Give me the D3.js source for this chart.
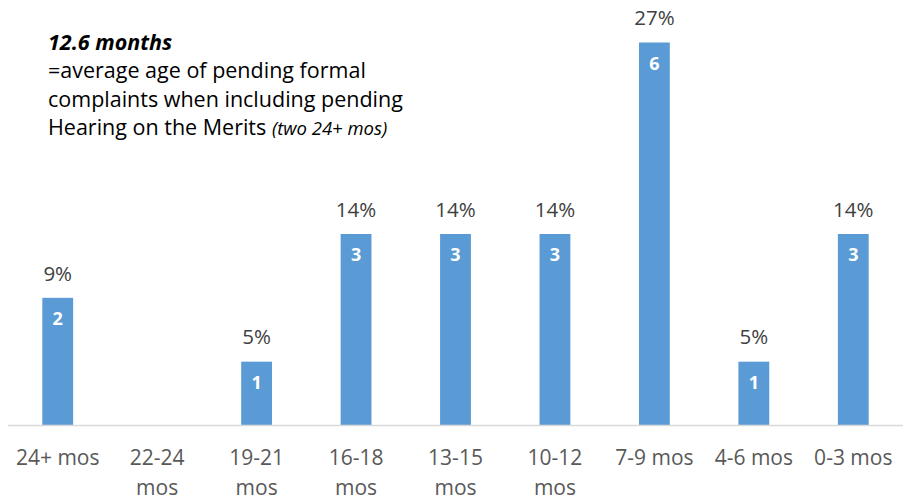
<!DOCTYPE html>
<html>
<head>
<meta charset="utf-8">
<script src="https://cdn.jsdelivr.net/npm/d3@7"></script>
<style>
	body { margin: 0; background: #fff; }
	svg { display: block; font-family: "Open Sans", sans-serif; }
</style>
</head>
<body>
<svg id="chart" width="903" height="499"></svg>
<script>
// Data
var categories = ["24+ mos", "22-24 mos", "19-21 mos", "16-18 mos", "13-15 mos", "10-12 mos", "7-9 mos", "4-6 mos", "0-3 mos"];
var counts = [2, 0, 1, 3, 3, 3, 6, 1, 3];
var percentLabels = ["9%", "", "5%", "14%", "14%", "14%", "27%", "5%", "14%"];
var noteLines = ["=average age of pending formal", "complaints when including pending", "Hearing on the Merits "];

var svg = d3.select("#chart");
var W = 903, H = 499;
var baseY = 425.5, topY = 42.5;

var x = d3.scaleBand()
	.domain(categories)
	.range([8, W])
	.paddingInner(0.69)
	.paddingOuter(0.345);

var y = d3.scaleLinear()
	.domain([0, d3.max(counts)])
	.range([baseY, topY]);

var data = categories.map(function(c, i) {
	return {cat: c, n: counts[i], pct: percentLabels[i]};
});

// Bars
var bars = svg.append("g");
bars.selectAll("rect").data(data.filter(function(d) { return d.n > 0; }))
	.enter().append("rect")
	.attr("x", function(d) { return x(d.cat); })
	.attr("y", function(d) { return y(d.n); })
	.attr("width", x.bandwidth())
	.attr("height", function(d) { return baseY - y(d.n); })
	.attr("fill", "#5B9BD5");

// Axis
var axis = svg.append("g")
	.attr("transform", "translate(0," + baseY + ")")
	.call(d3.axisBottom(x).tickSize(0).tickPadding(0));
axis.select(".domain").attr("stroke", "#D9D9D9").attr("stroke-width", 1.5)
	.attr("d", "M8,0H" + W);
axis.selectAll(".tick text")
	.attr("fill", "#595959")
	.style("font-size", "21px")
	.style("font-family", "'Open Sans', sans-serif")
	.attr("dy", 0)
	.each(function(d) {
		// wrap label into the band step
		var t = d3.select(this);
		var words = d.split(" ");
		t.text(null);
		var line = [], lineNo = 0;
		var tspan = t.append("tspan").attr("x", 0).attr("y", 39);
		for (var i = 0; i < words.length; i++) {
			line.push(words[i]);
			tspan.text(line.join(" "));
			if (tspan.node().getComputedTextLength() > x.step() - 4 && line.length > 1) {
				line.pop();
				tspan.text(line.join(" "));
				line = [words[i]];
				lineNo++;
				tspan = t.append("tspan").attr("x", 0).attr("y", 39 + lineNo * 30).text(words[i]);
			}
		}
	});

// Percentage labels
svg.append("g").selectAll("text").data(data.filter(function(d) { return d.pct; }))
	.enter().append("text")
	.attr("x", function(d) { return x(d.cat) + x.bandwidth() / 2; })
	.attr("y", function(d) { return y(d.n) - 24.5; })
	.attr("dy", "0.35em")
	.attr("text-anchor", "middle")
	.attr("fill", "#404040")
	.style("font-size", "20.5px")
	.text(function(d) { return d.pct; });

// Count labels inside bars
svg.append("g").selectAll("text").data(data.filter(function(d) { return d.n > 0; }))
	.enter().append("text")
	.attr("x", function(d) { return x(d.cat) + x.bandwidth() / 2; })
	.attr("y", function(d) { return y(d.n) + 21; })
	.attr("dy", "0.35em")
	.attr("text-anchor", "middle")
	.attr("fill", "#fff")
	.style("font-size", "18px")
	.style("font-weight", "bold")
	.text(function(d) { return d.n; });

// Annotation
var note = svg.append("g").attr("transform", "translate(48,0)");
note.append("text")
	.attr("y", 42).attr("dy", "0.35em")
	.style("font-size", "21.5px").style("font-weight", "bold").style("font-style", "italic")
	.attr("fill", "#000")
	.text("12.6 months");
noteLines.forEach(function(s, i) {
	var t = note.append("text")
		.attr("y", 70.5 + i * 28.5).attr("dy", "0.35em")
		.style("font-size", "21.5px")
		.attr("fill", "#000")
		.text(s);
	if (i == noteLines.length - 1) {
		t.append("tspan").style("font-style", "italic").style("font-size", "18.5px").text("(two 24+ mos)");
	}
});
</script>
</body>
</html>
